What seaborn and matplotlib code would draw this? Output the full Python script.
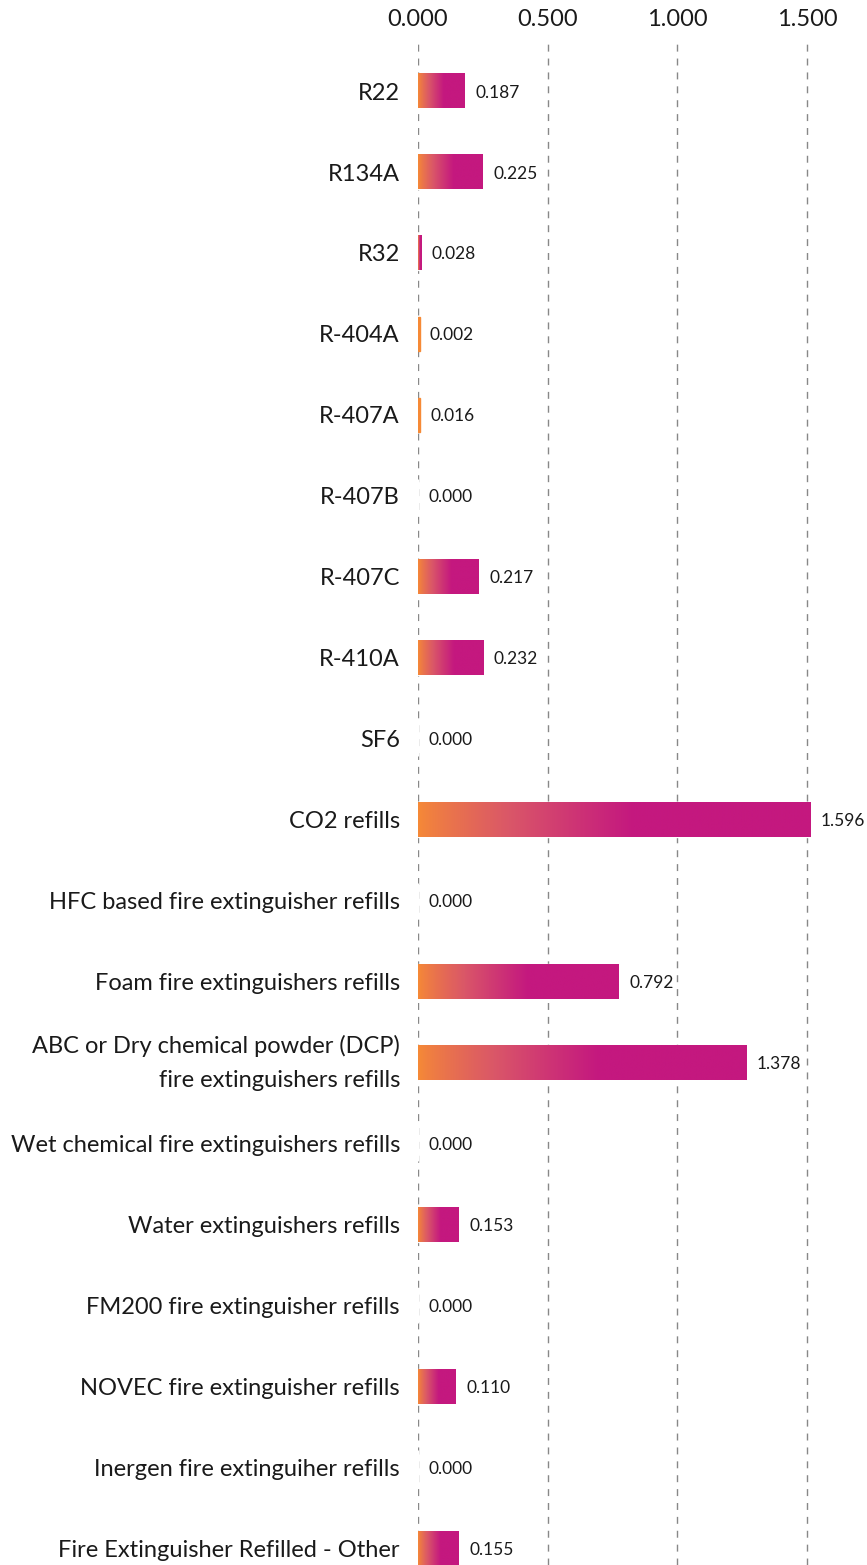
import numpy as np
import pandas as pd
import matplotlib
matplotlib.use("Agg")
import matplotlib.pyplot as plt
from matplotlib.colors import LinearSegmentedColormap
import seaborn as sns

# Chart data
CATEGORIES = [
    "R22",
    "R134A",
    "R32",
    "R-404A",
    "R-407A",
    "R-407B",
    "R-407C",
    "R-410A",
    "SF6",
    "CO2 refills",
    "HFC based fire extinguisher refills",
    "Foam fire extinguishers refills",
    "ABC or Dry chemical powder (DCP)\nfire extinguishers refills",
    "Wet chemical fire extinguishers refills",
    "Water extinguishers refills",
    "FM200 fire extinguisher refills",
    "NOVEC fire extinguisher refills",
    "Inergen fire extinguiher refills",
    "Fire Extinguisher Refilled - Other",
]
# printed values next to the bars
VALUES = [0.187, 0.225, 0.028, 0.002, 0.016, 0.000, 0.217, 0.232, 0.000,
          1.596, 0.000, 0.792, 1.378, 0.000, 0.153, 0.000, 0.110, 0.000, 0.155]
# bar lengths as they sit against the gridlines in the picture
BAR_LENGTHS = [0.181, 0.250, 0.012, 0.006, 0.007, 0.000, 0.235, 0.251, 0.000,
               1.512, 0.000, 0.775, 1.265, 0.000, 0.158, 0.000, 0.145, 0.000, 0.158]
X_TICKS = [0.0, 0.5, 1.0, 1.5]

ORANGE = "#F68A36"
PINK = "#C4187F"
TEXT = "#1a1a1a"


def gradient_image():
    """Orange -> pink over the first half of the bar, then flat pink."""
    cmap = LinearSegmentedColormap.from_list("bar", [ORANGE, "#DA5768", PINK])
    t = np.linspace(0, 1, 500)
    return cmap(np.clip(t / 0.55, 0, 1) ** 0.8)[np.newaxis, :, :]


def main():
    sns.set_theme(style="white")
    plt.rcParams["font.family"] = ["Lato", "DejaVu Sans"]

    df = pd.DataFrame({"category": CATEGORIES, "length": BAR_LENGTHS})

    fig = plt.figure(figsize=(8.67, 15.65), dpi=100)
    ax = fig.add_axes([418 / 867, 0, 444 / 867, 1525 / 1565])

    sns.barplot(data=df, x="length", y="category", orient="h", color=PINK,
                saturation=1, width=0.43, ax=ax, zorder=2)

    # overlay gradient on each bar
    grad = gradient_image()
    for patch in ax.patches:
        w = patch.get_width()
        if w <= 0:
            continue
        if w < 0.01:
            # hairline bars: keep them visible as a thin orange stroke
            patch.set_facecolor(ORANGE)
            patch.set_edgecolor(ORANGE)
            patch.set_linewidth(1)
            continue
        x0, y0 = patch.get_x(), patch.get_y()
        h = patch.get_height()
        ax.imshow(grad, extent=[x0, x0 + w, y0 + h, y0], aspect="auto",
                  zorder=3, interpolation="bilinear")

    texts = ax.bar_label(ax.containers[0], labels=[f"{v:.3f}" for v in VALUES],
                         padding=7.5, fontsize=12.5, color=TEXT)
    for t in texts:
        t.set_va("center_baseline")

    ax.set_xlim(0, 444 / 259.3)
    ax.set_ylim(18.2, -0.63)
    ax.set_xticks(X_TICKS)
    ax.set_xticklabels([f"{t:.3f}" for t in X_TICKS])
    ax.xaxis.tick_top()
    ax.tick_params(axis="x", length=0, pad=7, labelsize=17, labelcolor=TEXT)
    ax.tick_params(axis="y", length=0, pad=13, labelsize=17, labelcolor=TEXT)
    two_line = ax.get_yticklabels()[12]
    two_line.set_linespacing(1.75)
    two_line.set_verticalalignment("center")
    ax.set_xlabel("")
    ax.set_ylabel("")
    ax.grid(axis="x", linestyle=(0, (5, 5)), color="#888888", linewidth=1, zorder=0)
    ax.grid(axis="y", visible=False)
    ax.set_axisbelow(True)
    for spine in ax.spines.values():
        spine.set_visible(False)

    fig.savefig("out.png", dpi=100)


if __name__ == "__main__":
    main()
